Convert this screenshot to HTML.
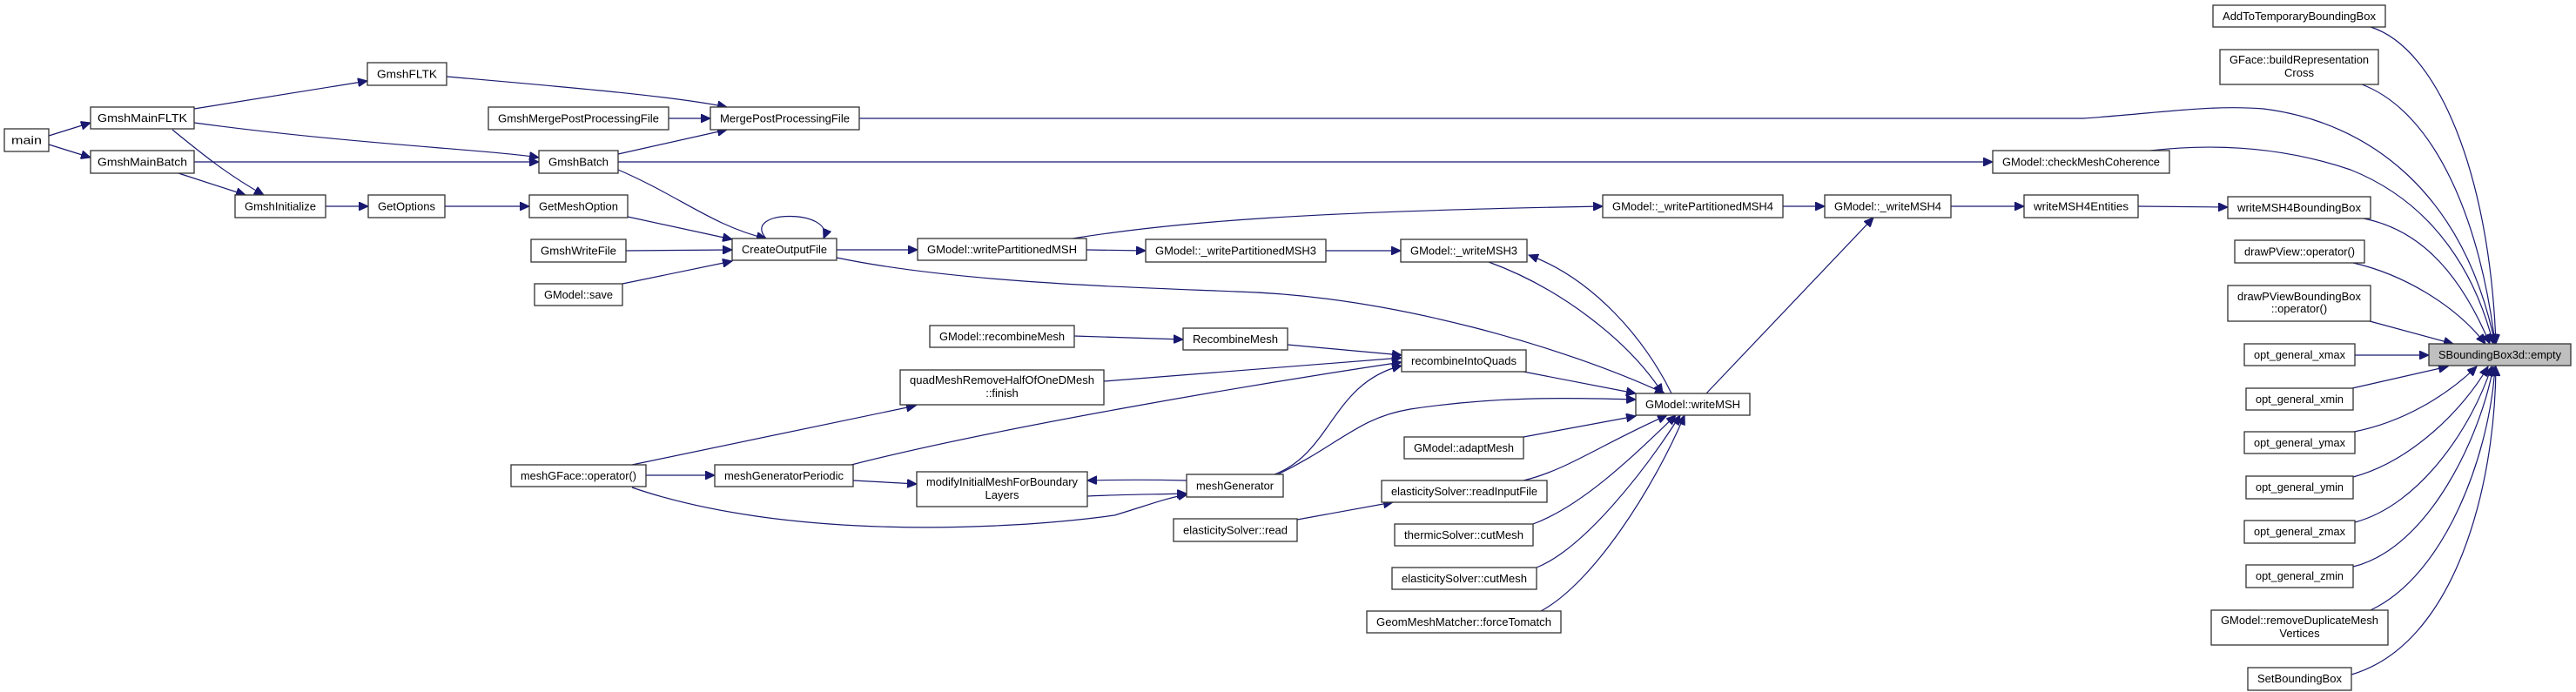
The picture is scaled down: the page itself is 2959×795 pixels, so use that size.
<!DOCTYPE html>
<html><head><meta charset="utf-8"><style>
html,body{margin:0;padding:0;background:#fff}
svg{display:block}
text{font-family:"Liberation Sans",sans-serif;font-size:13px;fill:#000}
.b{fill:#fff;stroke:#333;stroke-width:1.3}
.e{fill:none;stroke:#191970;stroke-width:1.2;marker-end:url(#a)}
</style></head><body>
<svg width="2959" height="795" viewBox="0 0 2959 795" xmlns="http://www.w3.org/2000/svg">
<defs><marker id="a" markerUnits="userSpaceOnUse" markerWidth="12" markerHeight="10" refX="11" refY="5" orient="auto"><path d="M0,0 L11,5 L0,10 z" fill="#191970" stroke="#191970"/></marker></defs>

<!-- edges -->
<path class="e" d="M56,156 L104,141"/>
<path class="e" d="M56,166 L104,181"/>
<path class="e" d="M223,125 L422,93"/>
<path class="e" d="M223,141 C400,165 560,172 619,181"/>
<path class="e" d="M198,149 C230,175 260,200 303,224"/>
<path class="e" d="M223,186 L619,186"/>
<path class="e" d="M205,199 L282,224"/>
<path class="e" d="M513,88 C650,100 770,110 835,123"/>
<path class="e" d="M768,136 L816,136"/>
<path class="e" d="M710,177 L835,149"/>
<path class="e" d="M710,195 C780,225 820,260 880,274"/>
<path class="e" d="M710,186 L2289,186"/>
<path class="e" d="M374,237 L423,237"/>
<path class="e" d="M511,237 L608,237"/>
<path class="e" d="M721,249 L841,275"/>
<path class="e" d="M719,288 L841,287"/>
<path class="e" d="M715,326 L841,300"/>
<path class="e" d="M880,274 C850,240 960,240 946,274"/>
<path class="e" d="M961,287 L1054,287"/>
<path class="e" d="M961,296 C1100,325 1300,330 1420,335 C1600,340 1800,400 1912,452"/>
<path class="e" d="M987,136 L2393,136 C2480,130 2540,120 2600,125 C2720,140 2830,220 2866,395"/>
<path class="e" d="M2470,173 C2540,165 2620,168 2700,195 C2800,235 2845,320 2864,395"/>
<path class="e" d="M1248,287 L1316,288"/>
<path class="e" d="M1232,274 C1350,255 1500,243 1841,237"/>
<path class="e" d="M1523,288 L1609,288"/>
<path class="e" d="M2048,237 L2096,237"/>
<path class="e" d="M2241,237 L2325,237"/>
<path class="e" d="M2456,237 L2559,238"/>
<path class="e" d="M2715,251 C2770,262 2820,300 2860,395"/>
<path class="e" d="M1920,452 C1890,390 1830,320 1756,293"/>
<path class="e" d="M1710,301 C1790,330 1870,390 1910,452"/>
<path class="e" d="M1960,452 L2152,250"/>
<path class="e" d="M1234,386 L1359,390"/>
<path class="e" d="M1479,396 L1610,408"/>
<path class="e" d="M1268,438 L1610,411"/>
<path class="e" d="M978,534 C1150,490 1450,440 1610,416"/>
<path class="e" d="M1464,545 C1530,520 1530,440 1610,420"/>
<path class="e" d="M1466,546 C1540,510 1560,480 1620,470 C1720,455 1800,457 1879,459"/>
<path class="e" d="M1750,427 L1879,452"/>
<path class="e" d="M1750,502 L1879,478"/>
<path class="e" d="M1750,552 C1800,540 1840,510 1915,477"/>
<path class="e" d="M1761,602 C1820,580 1880,520 1925,477"/>
<path class="e" d="M1765,652 C1820,630 1890,540 1930,477"/>
<path class="e" d="M1770,702 C1830,670 1900,560 1935,477"/>
<path class="e" d="M1490,597 L1600,577"/>
<path class="e" d="M726,534 L1052,466"/>
<path class="e" d="M742,546 L821,546"/>
<path class="e" d="M726,560 C900,620 1150,610 1280,592 C1320,580 1340,572 1364,568"/>
<path class="e" d="M980,552 L1053,556"/>
<path class="e" d="M1249,570 C1290,568 1330,568 1363,567"/>
<path class="e" d="M1363,552 C1320,551 1290,551 1249,552"/>
<path class="e" d="M2723,31 C2800,55 2860,200 2867,395"/>
<path class="e" d="M2713,97 C2800,130 2850,260 2866,395"/>
<path class="e" d="M2703,302 C2760,315 2820,350 2855,395"/>
<path class="e" d="M2722,369 L2818,395"/>
<path class="e" d="M2705,408 L2790,408"/>
<path class="e" d="M2702,446 L2812,421"/>
<path class="e" d="M2704,496 C2760,485 2810,455 2845,421"/>
<path class="e" d="M2703,548 C2770,530 2830,470 2858,421"/>
<path class="e" d="M2705,600 C2780,580 2840,490 2862,421"/>
<path class="e" d="M2703,651 C2790,630 2850,500 2864,421"/>
<path class="e" d="M2723,701 C2810,660 2860,520 2866,421"/>
<path class="e" d="M2701,775 C2820,740 2866,560 2867,421"/>

<!-- nodes -->
<g text-anchor="middle">
<rect class="b" x="5" y="148" width="51" height="26"/><text x="30.5" y="165.5" textLength="35" lengthAdjust="spacingAndGlyphs">main</text>
<rect class="b" x="104" y="123" width="119" height="25"/><text x="163.5" y="140" textLength="103" lengthAdjust="spacingAndGlyphs">GmshMainFLTK</text>
<rect class="b" x="104" y="173" width="119" height="26"/><text x="163.5" y="190.5" textLength="103" lengthAdjust="spacingAndGlyphs">GmshMainBatch</text>
<rect class="b" x="422" y="72" width="91" height="26"/><text x="467.5" y="89.5" textLength="69" lengthAdjust="spacingAndGlyphs">GmshFLTK</text>
<rect class="b" x="270" y="224" width="104" height="26"/><text x="322" y="241.5" textLength="82" lengthAdjust="spacingAndGlyphs">GmshInitialize</text>
<rect class="b" x="423" y="224" width="88" height="26"/><text x="467" y="241.5" textLength="66" lengthAdjust="spacingAndGlyphs">GetOptions</text>
<rect class="b" x="608" y="224" width="113" height="26"/><text x="664.5" y="241.5" textLength="91" lengthAdjust="spacingAndGlyphs">GetMeshOption</text>
<rect class="b" x="561" y="123" width="207" height="26"/><text x="664.5" y="140.5" textLength="185" lengthAdjust="spacingAndGlyphs">GmshMergePostProcessingFile</text>
<rect class="b" x="816" y="123" width="171" height="26"/><text x="901.5" y="140.5" textLength="149" lengthAdjust="spacingAndGlyphs">MergePostProcessingFile</text>
<rect class="b" x="619" y="173" width="91" height="26"/><text x="664.5" y="190.5" textLength="69" lengthAdjust="spacingAndGlyphs">GmshBatch</text>
<rect class="b" x="610" y="275" width="109" height="26"/><text x="664.5" y="292.5" textLength="87" lengthAdjust="spacingAndGlyphs">GmshWriteFile</text>
<rect class="b" x="614" y="326" width="101" height="25"/><text x="664.5" y="343" textLength="79" lengthAdjust="spacingAndGlyphs">GModel::save</text>
<rect class="b" x="841" y="274" width="120" height="25"/><text x="901" y="291" textLength="98" lengthAdjust="spacingAndGlyphs">CreateOutputFile</text>
<rect class="b" x="1054" y="274" width="194" height="25"/><text x="1151" y="291" textLength="172" lengthAdjust="spacingAndGlyphs">GModel::writePartitionedMSH</text>
<rect class="b" x="1316" y="275" width="207" height="26"/><text x="1419.5" y="292.5" textLength="185" lengthAdjust="spacingAndGlyphs">GModel::_writePartitionedMSH3</text>
<rect class="b" x="1609" y="275" width="145" height="26"/><text x="1681.5" y="292.5" textLength="123" lengthAdjust="spacingAndGlyphs">GModel::_writeMSH3</text>
<rect class="b" x="1841" y="224" width="207" height="26"/><text x="1944.5" y="241.5" textLength="185" lengthAdjust="spacingAndGlyphs">GModel::_writePartitionedMSH4</text>
<rect class="b" x="2096" y="224" width="145" height="26"/><text x="2168.5" y="241.5" textLength="123" lengthAdjust="spacingAndGlyphs">GModel::_writeMSH4</text>
<rect class="b" x="2325" y="224" width="131" height="26"/><text x="2390.5" y="241.5" textLength="109" lengthAdjust="spacingAndGlyphs">writeMSH4Entities</text>
<rect class="b" x="2289" y="173" width="203" height="26"/><text x="2390.5" y="190.5" textLength="181" lengthAdjust="spacingAndGlyphs">GModel::checkMeshCoherence</text>
<rect class="b" x="1068" y="374" width="166" height="25"/><text x="1151" y="391" textLength="144" lengthAdjust="spacingAndGlyphs">GModel::recombineMesh</text>
<rect class="b" x="1359" y="377" width="120" height="25"/><text x="1419" y="394" textLength="98" lengthAdjust="spacingAndGlyphs">RecombineMesh</text>
<rect class="b" x="1034" y="425" width="234" height="40"/><text x="1151" y="441" textLength="212" lengthAdjust="spacingAndGlyphs">quadMeshRemoveHalfOfOneDMesh</text><text x="1151" y="456">::finish</text>
<rect class="b" x="1610" y="402" width="143" height="25"/><text x="1681.5" y="419" textLength="121" lengthAdjust="spacingAndGlyphs">recombineIntoQuads</text>
<rect class="b" x="1879" y="452" width="131" height="25"/><text x="1944.5" y="469" textLength="109" lengthAdjust="spacingAndGlyphs">GModel::writeMSH</text>
<rect class="b" x="1613" y="502" width="137" height="25"/><text x="1681.5" y="519" textLength="115" lengthAdjust="spacingAndGlyphs">GModel::adaptMesh</text>
<rect class="b" x="1587" y="552" width="190" height="25"/><text x="1682" y="569" textLength="168" lengthAdjust="spacingAndGlyphs">elasticitySolver::readInputFile</text>
<rect class="b" x="1602" y="602" width="159" height="25"/><text x="1681.5" y="619" textLength="137" lengthAdjust="spacingAndGlyphs">thermicSolver::cutMesh</text>
<rect class="b" x="1599" y="652" width="166" height="25"/><text x="1682" y="669" textLength="144" lengthAdjust="spacingAndGlyphs">elasticitySolver::cutMesh</text>
<rect class="b" x="1570" y="702" width="223" height="25"/><text x="1681.5" y="719" textLength="201" lengthAdjust="spacingAndGlyphs">GeomMeshMatcher::forceTomatch</text>
<rect class="b" x="587" y="534" width="155" height="25"/><text x="664.5" y="551" textLength="133" lengthAdjust="spacingAndGlyphs">meshGFace::operator()</text>
<rect class="b" x="821" y="534" width="159" height="25"/><text x="900.5" y="551" textLength="137" lengthAdjust="spacingAndGlyphs">meshGeneratorPeriodic</text>
<rect class="b" x="1053" y="542" width="196" height="40"/><text x="1151" y="558" textLength="174" lengthAdjust="spacingAndGlyphs">modifyInitialMeshForBoundary</text><text x="1151" y="573">Layers</text>
<rect class="b" x="1363" y="545" width="111" height="26"/><text x="1418.5" y="562.5" textLength="89" lengthAdjust="spacingAndGlyphs">meshGenerator</text>
<rect class="b" x="1348" y="596" width="142" height="26"/><text x="1419" y="613.5" textLength="120" lengthAdjust="spacingAndGlyphs">elasticitySolver::read</text>

<rect class="b" x="2542" y="6" width="198" height="25"/><text x="2641" y="23" textLength="176" lengthAdjust="spacingAndGlyphs">AddToTemporaryBoundingBox</text>
<rect class="b" x="2550" y="57" width="182" height="40"/><text x="2641" y="73" textLength="160" lengthAdjust="spacingAndGlyphs">GFace::buildRepresentation</text><text x="2641" y="88">Cross</text>
<rect class="b" x="2559" y="226" width="164" height="25"/><text x="2641" y="243" textLength="142" lengthAdjust="spacingAndGlyphs">writeMSH4BoundingBox</text>
<rect class="b" x="2567" y="276" width="149" height="26"/><text x="2641.5" y="293.5" textLength="127" lengthAdjust="spacingAndGlyphs">drawPView::operator()</text>
<rect class="b" x="2559" y="328" width="164" height="41"/><text x="2641" y="345" textLength="142" lengthAdjust="spacingAndGlyphs">drawPViewBoundingBox</text><text x="2641" y="359">::operator()</text>
<rect class="b" x="2578" y="395" width="127" height="25"/><text x="2641.5" y="412" textLength="105" lengthAdjust="spacingAndGlyphs">opt_general_xmax</text>
<rect x="2790" y="395" width="163" height="25" fill="#bfbfbf" stroke="#333" stroke-width="1.3"/><text x="2871.5" y="412" textLength="141" lengthAdjust="spacingAndGlyphs">SBoundingBox3d::empty</text>
<rect class="b" x="2580" y="446" width="123" height="25"/><text x="2641.5" y="463" textLength="101" lengthAdjust="spacingAndGlyphs">opt_general_xmin</text>
<rect class="b" x="2578" y="496" width="127" height="25"/><text x="2641.5" y="513" textLength="105" lengthAdjust="spacingAndGlyphs">opt_general_ymax</text>
<rect class="b" x="2580" y="547" width="123" height="26"/><text x="2641.5" y="564" textLength="101" lengthAdjust="spacingAndGlyphs">opt_general_ymin</text>
<rect class="b" x="2578" y="598" width="127" height="26"/><text x="2641.5" y="615" textLength="105" lengthAdjust="spacingAndGlyphs">opt_general_zmax</text>
<rect class="b" x="2580" y="649" width="123" height="26"/><text x="2641.5" y="666" textLength="101" lengthAdjust="spacingAndGlyphs">opt_general_zmin</text>
<rect class="b" x="2540" y="701" width="203" height="40"/><text x="2641.5" y="717" textLength="181" lengthAdjust="spacingAndGlyphs">GModel::removeDuplicateMesh</text><text x="2641.5" y="732">Vertices</text>
<rect class="b" x="2582" y="767" width="119" height="26"/><text x="2641.5" y="784" textLength="97" lengthAdjust="spacingAndGlyphs">SetBoundingBox</text>
</g>
</svg>
</body></html>
